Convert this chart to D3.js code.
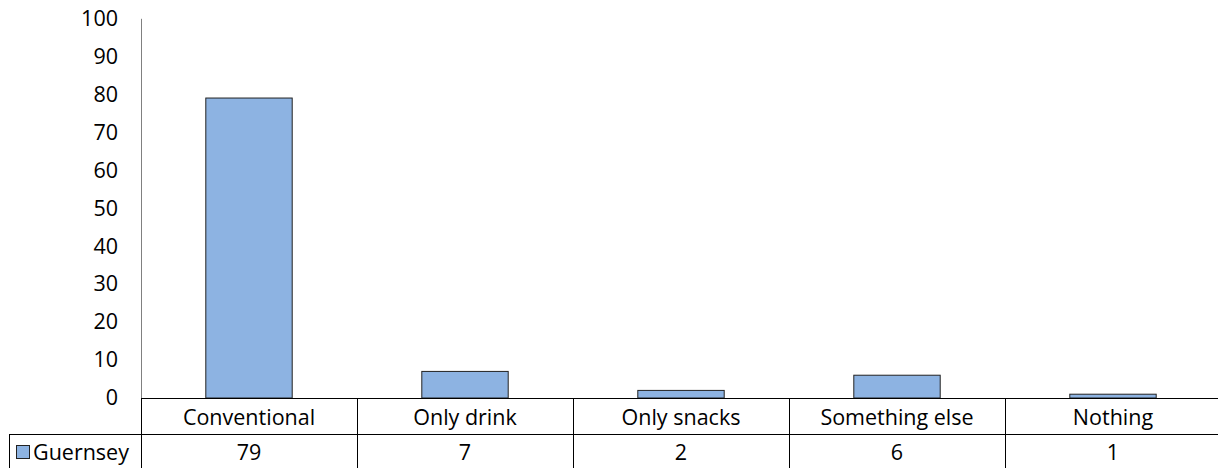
<!DOCTYPE html>
<html><head><meta charset="utf-8">
<script src="https://cdn.jsdelivr.net/npm/d3@7/dist/d3.min.js"></script>
<style>body{margin:0;background:#fff}svg{display:block}text{font-family:"Open Sans",sans-serif;fill:#000}</style>
</head><body>
<script>
const categories = ["Conventional","Only drink","Only snacks","Something else","Nothing"];
const seriesName = "Guernsey";
const values = [79,7,2,6,1];
const yTicks = [0,10,20,30,40,50,60,70,80,90,100];

const W = 1218, H = 468;
const svg = d3.select("body").append("svg").attr("width",W).attr("height",H);
const x0 = 141, x1 = 1221, yTop = 18.3, yBase = 398, rowH = 36;
const x = d3.scaleBand().domain(categories).range([x0,x1]).paddingInner(0).paddingOuter(0);
const y = d3.scaleLinear().domain([0,100]).range([yBase,yTop]);
const fs = 21.5;
const ff = "'Open Sans', sans-serif";
const color = "#8DB3E2";

// y axis
const yAxis = d3.axisLeft(y).tickValues(yTicks).tickSize(0).tickPadding(23);
const ga = svg.append("g").attr("transform",`translate(${x0},0)`).call(yAxis);
ga.select(".domain").attr("stroke","#808080").attr("stroke-width",1);
ga.selectAll("text").style("font-size",fs+"px").style("font-family",ff).attr("fill","#000");

// bars
const bw = x.bandwidth()*0.4;
svg.append("g").selectAll("rect").data(values).join("rect")
  .attr("x",(d,i)=>x(categories[i])+(x.bandwidth()-bw)/2)
  .attr("y",d=>y(d))
  .attr("width",bw)
  .attr("height",d=>yBase-y(d))
  .attr("fill",color).attr("stroke","#222").attr("stroke-width",1);

// data table
const t = svg.append("g").attr("stroke","#000").attr("stroke-width",1);
t.append("line").attr("x1",x0).attr("x2",W).attr("y1",yBase+0.5).attr("y2",yBase+0.5);
t.append("line").attr("x1",9).attr("x2",W).attr("y1",yBase+rowH+0.5).attr("y2",yBase+rowH+0.5);
t.append("line").attr("x1",9).attr("x2",W).attr("y1",yBase+2*rowH+0.5).attr("y2",yBase+2*rowH+0.5);
t.append("line").attr("x1",9.5).attr("x2",9.5).attr("y1",yBase+rowH).attr("y2",yBase+2*rowH);
const divs = [x0].concat(categories.map(c=>x(c)+x.bandwidth()));
t.selectAll("line.v").data(divs).join("line").attr("class","v")
  .attr("x1",d=>Math.round(d)+0.5).attr("x2",d=>Math.round(d)+0.5)
  .attr("y1",yBase).attr("y2",yBase+2*rowH);

svg.append("g").selectAll("text").data(categories).join("text")
  .attr("x",d=>x(d)+x.bandwidth()/2).attr("y",yBase+rowH/2)
  .attr("text-anchor","middle").attr("dominant-baseline","central")
  .style("font-size",fs+"px").text(d=>d);
svg.append("g").selectAll("text").data(values).join("text")
  .attr("x",(d,i)=>x(categories[i])+x.bandwidth()/2).attr("y",yBase+rowH*1.5-1)
  .attr("text-anchor","middle").attr("dominant-baseline","central")
  .style("font-size",fs+"px").text(d=>d);

// legend key + series name
svg.append("rect").attr("x",16.5).attr("y",445.5).attr("width",13).attr("height",13)
  .attr("fill",color).attr("stroke","#222");
svg.append("text").attr("x",33).attr("y",yBase+rowH*1.5-1).attr("dominant-baseline","central")
  .style("font-size",fs+"px").text(seriesName);
</script>
</body></html>
